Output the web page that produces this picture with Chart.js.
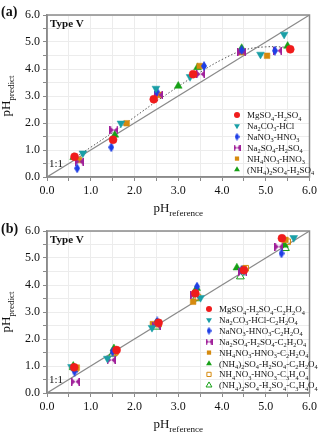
<!DOCTYPE html>
<html>
<head>
<meta charset="utf-8">
<script src="https://cdn.jsdelivr.net/npm/chart.js@4.4.1/dist/chart.umd.min.js"></script>
<style>
  body { margin: 0; background: #fff; }
  .panel { position: absolute; left: 0; width: 320px; height: 217px; }
</style>
</head>
<body>
<div class="panel" style="top:0"><canvas id="chart-a" width="320" height="217"></canvas></div>
<div class="panel" style="top:217px"><canvas id="chart-b" width="320" height="217"></canvas></div>
<script>
// ---- data: panel (a) Type V, inorganic systems ----
const tickValues = [0, 1, 2, 3, 4, 5, 6];
const oneToOne = [0, 6];

const aMgRef = [0.63, 1.51, 2.44, 3.34, 5.56];
const aMgPred = [0.75, 1.38, 2.88, 3.81, 4.73];
const aNaCO3Ref = [0.82, 1.69, 2.49, 3.27, 4.88, 5.42];
const aNaCO3Pred = [0.88, 1.99, 3.28, 3.71, 4.54, 5.28];
const aNaNO3Ref = [0.69, 1.47, 2.51, 3.59, 4.45, 5.21];
const aNaNO3Pred = [0.32, 1.10, 3.16, 4.11, 4.70, 4.68];
const aNaSO4Ref = [0.74, 1.53, 2.55, 3.51, 4.45, 5.27];
const aNaSO4Pred = [0.57, 1.74, 3.04, 3.81, 4.62, 4.68];
const aNH4NO3Ref = [0.73, 1.82, 2.57, 3.49, 4.45, 5.03];
const aNH4NO3Pred = [0.63, 1.99, 3.04, 4.11, 4.62, 4.49];
const aAmSO4Ref = [0.61, 1.55, 3.00, 3.44, 4.45, 5.50];
const aAmSO4Pred = [0.73, 1.56, 3.37, 4.06, 4.77, 4.85];
const fitRef = [0.6, 1.0, 1.5, 2.0, 2.5, 3.0, 3.5, 4.0, 4.5, 5.0, 5.6];
const fitPred = [0.68, 1.10, 1.65, 2.22, 2.80, 3.35, 3.88, 4.35, 4.70, 4.82, 4.80];

// ---- data: panel (b) Type V, with organic acids ----
const bMgRef = [0.62, 1.59, 2.55, 3.39, 4.50, 5.37];
const bMgPred = [0.95, 1.59, 2.60, 3.69, 4.55, 5.73];
const bNaCO3Ref = [0.56, 1.38, 2.40, 3.51, 4.50, 5.64];
const bNaCO3Pred = [0.97, 1.28, 2.42, 3.53, 4.50, 5.75];
const bNaNO3Ref = [0.63, 1.50, 2.52, 3.43, 4.45, 5.36];
const bNaNO3Pred = [0.79, 1.53, 2.65, 3.94, 4.56, 5.17];
const bNaSO4Ref = [0.65, 1.47, 2.50, 3.38, 4.47, 5.30];
const bNaSO4Pred = [0.42, 1.22, 2.50, 3.63, 4.49, 5.42];
const bNH4NO3Ref = [0.68, 1.57, 2.42, 3.34, 4.50, 5.45];
const bNH4NO3Pred = [0.94, 1.53, 2.55, 3.38, 4.60, 5.67];
const bAmSO4Ref = [0.60, 1.53, 2.50, 3.42, 4.34, 5.43];
const bAmSO4Pred = [1.00, 1.65, 2.60, 3.88, 4.64, 5.48];
const bNH4NO3MalRef = [0.65, 1.55, 2.55, 3.45, 4.54, 5.50];
const bNH4NO3MalPred = [0.90, 1.50, 2.55, 3.55, 4.62, 5.60];
const bAmSO4MalRef = [0.60, 1.50, 2.50, 3.40, 4.42, 5.45];
const bAmSO4MalPred = [0.95, 1.45, 2.45, 3.50, 4.31, 5.36];

const labelsA = ['MgSO_4-H_2SO_4', 'Na_2CO_3-HCl', 'NaNO_3-HNO_3', 'Na_2SO_4-H_2SO_4',
    'NH_4NO_3-HNO_3', '(NH_4)_2SO_4-H_2SO_4'];
const labelsB = ['MgSO_4-H_2SO_4-C_2H_2O_4', 'Na_2CO_3-HCl-C_2H_2O_4', 'NaNO_3-HNO_3-C_2H_2O_4',
    'Na_2SO_4-H_2SO_4-C_2H_2O_4', 'NH_4NO_3-HNO_3-C_2H_2O_4', '(NH_4)_2SO_4-H_2SO_4-C_2H_2O_4',
    'NH_4NO_3-HNO_3-C_3H_4O_4', '(NH_4)_2SO_4-H_2SO_4-C_3H_4O_4'];

const RED = '#f01c1c', TEAL = '#1a9fa6', BLUE = '#1f3fe6', PURPLE = '#a0209a',
    ORANGE = '#d68a0e', GREEN = '#16a016';
const SERIF = '"Liberation Serif", "Times New Roman", serif';

function pts(xs, ys) {
    return xs.map((x, i) => ({ x: x, y: ys[i] }));
}

// thin diamond and bow-tie markers
function makeDiamond(color, w, h) {
    const c = document.createElement('canvas');
    c.width = w; c.height = h;
    const g = c.getContext('2d');
    g.fillStyle = color;
    g.beginPath();
    g.moveTo(w / 2, 0); g.lineTo(w, h / 2); g.lineTo(w / 2, h); g.lineTo(0, h / 2);
    g.closePath(); g.fill();
    return c;
}
function makeBowtie(color, w, h) {
    const c = document.createElement('canvas');
    c.width = w; c.height = h;
    const g = c.getContext('2d');
    g.fillStyle = color;
    g.beginPath();
    g.moveTo(0, 0); g.lineTo(w / 2, h / 2); g.lineTo(0, h); g.closePath();
    g.moveTo(w, 0); g.lineTo(w / 2, h / 2); g.lineTo(w, h); g.closePath();
    g.fill();
    g.fillRect(0, 0, 1.5, h);
    g.fillRect(w - 1.5, 0, 1.5, h);
    return c;
}

const styles = [
    { color: RED, pointStyle: 'circle', radius: 4, rotation: 0 },
    { color: TEAL, pointStyle: 'triangle', radius: 4.5, rotation: 180 },
    { color: BLUE, pointStyle: makeDiamond(BLUE, 6, 10), legendStyle: makeDiamond(BLUE, 5, 8), radius: 4, rotation: 0 },
    { color: PURPLE, pointStyle: makeBowtie(PURPLE, 9, 8), legendStyle: makeBowtie(PURPLE, 7, 6), radius: 4, rotation: 0 },
    { color: ORANGE, pointStyle: 'rect', radius: 4, rotation: 0 },
    { color: GREEN, pointStyle: 'triangle', radius: 4.5, rotation: 0 },
    { color: ORANGE, pointStyle: 'rect', radius: 4, rotation: 0, open: true },
    { color: GREEN, pointStyle: 'triangle', radius: 4.5, rotation: 0, open: true }
];

function scatterSet(label, data, st) {
    return {
        type: 'scatter',
        label: label,
        data: data,
        pointStyle: st.pointStyle,
        pointRadius: st.radius,
        pointRotation: st.rotation,
        backgroundColor: st.open ? 'rgba(255,255,255,0)' : st.color,
        borderColor: st.color,
        borderWidth: st.open ? 1 : 0.5
    };
}

// text with subscripts: "pH_{predict}", "MgSO_4"
function parseSub(str) {
    const out = [];
    let buf = '', i = 0;
    while (i < str.length) {
        if (str[i] === '_') {
            if (buf) { out.push({ t: buf, sub: false }); buf = ''; }
            if (str[i + 1] === '{') {
                const j = str.indexOf('}', i);
                out.push({ t: str.slice(i + 2, j), sub: true });
                i = j + 1;
            } else {
                out.push({ t: str[i + 1], sub: true });
                i += 2;
            }
        } else {
            buf += str[i];
            i++;
        }
    }
    if (buf) out.push({ t: buf, sub: false });
    return out;
}
function drawRich(ctx, str, x, y, size, align) {
    const parts = parseSub(str);
    const subSize = size * 0.7;
    let w = 0;
    parts.forEach(p => {
        ctx.font = (p.sub ? subSize : size) + 'px ' + SERIF;
        p.w = ctx.measureText(p.t).width;
        w += p.w;
    });
    let cx = align === 'center' ? x - w / 2 : x;
    ctx.textAlign = 'left';
    ctx.textBaseline = 'alphabetic';
    parts.forEach(p => {
        ctx.font = (p.sub ? subSize : size) + 'px ' + SERIF;
        ctx.fillText(p.t, cx, p.sub ? y + size * 0.28 : y);
        cx += p.w;
    });
}

function makePanel(canvasId, tag, sets, labels, legendX, legendY, xAxisHeight, topPad) {
    const datasets = sets.map((d, i) => scatterSet(labels[i], d, styles[i]));
    datasets.push({
        type: 'line', label: '1:1', data: pts(oneToOne, oneToOne),
        borderColor: '#8a8a8a', borderWidth: 1.2, pointRadius: 0, fill: false
    });

    const decorations = {
        id: 'decorations',
        afterDraw(chart) {
            const ctx = chart.ctx;
            const a = chart.chartArea;
            ctx.save();
            ctx.strokeStyle = '#8a8a8a';
            ctx.lineWidth = 1.5;
            ctx.strokeRect(a.left, a.top, a.right - a.left, a.bottom - a.top);
            ctx.fillStyle = '#111';
            ctx.font = 'bold 14px ' + SERIF;
            ctx.textBaseline = 'alphabetic';
            ctx.textAlign = 'left';
            ctx.fillText(tag, 1, 16);
            ctx.font = 'bold 11px ' + SERIF;
            ctx.fillText('Type V', a.left + 3, a.top + 12);
            ctx.font = '11px ' + SERIF;
            ctx.fillText('1:1', a.left + 2, a.bottom - 10);
            drawRich(ctx, 'pH_{reference}', (a.left + a.right) / 2, a.bottom + 35, 13, 'center');
            ctx.save();
            ctx.translate(10, (a.top + a.bottom) / 2);
            ctx.rotate(-Math.PI / 2);
            drawRich(ctx, 'pH_{predict}', 0, 0, 13, 'center');
            ctx.restore();
            // legend
            labels.forEach((lab, i) => {
                const st = styles[i];
                const y = legendY + i * 10.9;
                ctx.fillStyle = st.open ? 'rgba(255,255,255,0)' : st.color;
                ctx.strokeStyle = st.color;
                ctx.lineWidth = 1;
                Chart.helpers.drawPoint(ctx, {
                    pointStyle: st.legendStyle || st.pointStyle, radius: st.radius * 0.75,
                    rotation: st.rotation, borderWidth: st.open ? 1 : 0
                }, legendX, y);
                ctx.fillStyle = '#111';
                drawRich(ctx, lab, legendX + 10, y + 3, 9, 'left');
            });
            ctx.restore();
        }
    };

    return { datasets: datasets, plugin: decorations, xAxisHeight: xAxisHeight, topPad: topPad, canvasId: canvasId };
}

function render(p) {
    const axisCommon = {
        type: 'linear', min: 0, max: 6,
        grid: { color: '#ececec', lineWidth: 1, drawTicks: true, tickLength: 4, tickColor: '#8a8a8a' },
        border: { color: '#8a8a8a', width: 1.5 },
        ticks: {
            stepSize: 0.5, autoSkip: false, padding: 3, color: '#111',
            font: { family: SERIF, size: 12 },
            callback: v => (tickValues.includes(v) ? v.toFixed(1) : '')
        }
    };
    new Chart(document.getElementById(p.canvasId), {
        data: { datasets: p.datasets },
        options: {
            responsive: false,
            animation: false,
            layout: { padding: { top: p.topPad, right: 7, left: 0, bottom: 0 } },
            plugins: { legend: { display: false }, tooltip: { enabled: false } },
            scales: {
                x: Object.assign({}, axisCommon, { afterFit: s => { s.height = p.xAxisHeight; } }),
                y: Object.assign({}, axisCommon, { afterFit: s => { s.width = 47; } })
            }
        },
        plugins: [p.plugin]
    });
}

const panelA = makePanel('chart-a', '(a)', [
    pts(aMgRef, aMgPred), pts(aNaCO3Ref, aNaCO3Pred), pts(aNaNO3Ref, aNaNO3Pred),
    pts(aNaSO4Ref, aNaSO4Pred), pts(aNH4NO3Ref, aNH4NO3Pred), pts(aAmSO4Ref, aAmSO4Pred)
], labelsA, 237, 115, 40, 15);
panelA.datasets.push({
    type: 'line', label: 'fit', data: pts(fitRef, fitPred),
    borderColor: '#555', borderWidth: 1, borderDash: [1.5, 2], pointRadius: 0,
    tension: 0.4, fill: false
});
render(panelA);

const panelB = makePanel('chart-b', '(b)', [
    pts(bMgRef, bMgPred), pts(bNaCO3Ref, bNaCO3Pred), pts(bNaNO3Ref, bNaNO3Pred),
    pts(bNaSO4Ref, bNaSO4Pred), pts(bNH4NO3Ref, bNH4NO3Pred), pts(bAmSO4Ref, bAmSO4Pred),
    pts(bNH4NO3MalRef, bNH4NO3MalPred), pts(bAmSO4MalRef, bAmSO4MalPred)
], labelsB, 209, 92, 41, 14);
render(panelB);
</script>
</body>
</html>
